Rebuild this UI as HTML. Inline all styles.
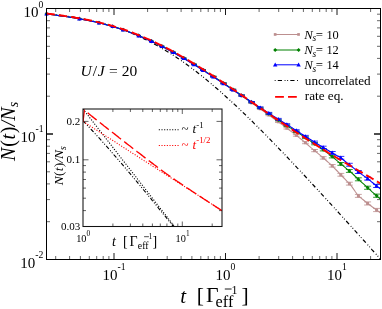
<!DOCTYPE html>
<html><head><meta charset="utf-8"><title>chart</title><style>html,body{margin:0;padding:0;background:#fff}body{width:382px;height:309px;overflow:hidden;font-family:"Liberation Serif",serif}</style></head><body>
<svg width="382" height="309" viewBox="0 0 382 309" style="display:block;will-change:transform;transform:translateZ(0)">
<rect width="382" height="309" fill="#fff"/>
<defs><clipPath id="cm"><rect x="46.5" y="8.5" width="334.0" height="251.0"/></clipPath><clipPath id="ci"><rect x="83.0" y="109.0" width="139.0" height="117.5"/></clipPath></defs>
<path d="M55.7,259.5 v-3.5 M55.7,8.5 v3.5 M69.6,259.5 v-3.5 M69.6,8.5 v3.5 M80.4,259.5 v-3.5 M80.4,8.5 v3.5 M89.3,259.5 v-3.5 M89.3,8.5 v3.5 M96.7,259.5 v-3.5 M96.7,8.5 v3.5 M103.2,259.5 v-3.5 M103.2,8.5 v3.5 M108.9,259.5 v-3.5 M108.9,8.5 v3.5 M147.6,259.5 v-3.5 M147.6,8.5 v3.5 M167.2,259.5 v-3.5 M167.2,8.5 v3.5 M181.1,259.5 v-3.5 M181.1,8.5 v3.5 M191.9,259.5 v-3.5 M191.9,8.5 v3.5 M200.8,259.5 v-3.5 M200.8,8.5 v3.5 M208.2,259.5 v-3.5 M208.2,8.5 v3.5 M214.7,259.5 v-3.5 M214.7,8.5 v3.5 M220.4,259.5 v-3.5 M220.4,8.5 v3.5 M259.1,259.5 v-3.5 M259.1,8.5 v3.5 M278.7,259.5 v-3.5 M278.7,8.5 v3.5 M292.6,259.5 v-3.5 M292.6,8.5 v3.5 M303.4,259.5 v-3.5 M303.4,8.5 v3.5 M312.3,259.5 v-3.5 M312.3,8.5 v3.5 M319.7,259.5 v-3.5 M319.7,8.5 v3.5 M326.2,259.5 v-3.5 M326.2,8.5 v3.5 M331.9,259.5 v-3.5 M331.9,8.5 v3.5 M370.6,259.5 v-3.5 M370.6,8.5 v3.5 M46.5,221.7 h3.5 M380.5,221.7 h-3.5 M46.5,199.6 h3.5 M380.5,199.6 h-3.5 M46.5,183.9 h3.5 M380.5,183.9 h-3.5 M46.5,171.8 h3.5 M380.5,171.8 h-3.5 M46.5,161.8 h3.5 M380.5,161.8 h-3.5 M46.5,153.4 h3.5 M380.5,153.4 h-3.5 M46.5,146.2 h3.5 M380.5,146.2 h-3.5 M46.5,139.7 h3.5 M380.5,139.7 h-3.5 M46.5,96.2 h3.5 M380.5,96.2 h-3.5 M46.5,74.1 h3.5 M380.5,74.1 h-3.5 M46.5,58.4 h3.5 M380.5,58.4 h-3.5 M46.5,46.3 h3.5 M380.5,46.3 h-3.5 M46.5,36.3 h3.5 M380.5,36.3 h-3.5 M46.5,27.9 h3.5 M380.5,27.9 h-3.5 M46.5,20.7 h3.5 M380.5,20.7 h-3.5 M46.5,14.2 h3.5 M380.5,14.2 h-3.5" stroke="#000" stroke-width="0.6" fill="none"/>
<path d="M114.0,259.5 v-6.5 M114.0,8.5 v6.5 M225.5,259.5 v-6.5 M225.5,8.5 v6.5 M337.0,259.5 v-6.5 M337.0,8.5 v6.5 M46.5,134.0 h6.5 M380.5,134.0 h-6.5 M46.5,134.0 h6.5 M380.5,134.0 h-6.5" stroke="#000" stroke-width="0.9" fill="none"/>
<g fill="none">
<path clip-path="url(#cm)" d="M46.5,13.7 L48.6,13.9 L50.7,14.1 L52.8,14.3 L54.9,14.6 L56.9,14.8 L59.0,15.1 L61.1,15.4 L63.2,15.6 L65.3,15.9 L67.4,16.2 L69.5,16.6 L71.5,16.9 L73.6,17.2 L75.7,17.6 L77.8,18.0 L79.9,18.3 L82.0,18.7 L84.1,19.1 L86.2,19.6 L88.2,20.0 L90.3,20.5 L92.4,20.9 L94.5,21.4 L96.6,21.9 L98.7,22.4 L100.8,23.0 L102.9,23.5 L105.0,24.1 L107.0,24.7 L109.1,25.3 L111.2,26.0 L113.3,26.6 L115.4,27.3 L117.5,28.0 L119.6,28.7 L121.7,29.4 L123.7,30.2 L125.8,31.0 L127.9,31.8 L130.0,32.6 L132.1,33.5 L134.2,34.3 L136.3,35.2 L138.3,36.2 L140.4,37.1 L142.5,38.1 L144.6,39.1 L146.7,40.1 L148.8,41.2 L150.9,42.2 L153.0,43.3 L155.1,44.4 L157.1,45.6 L159.2,46.8 L161.3,48.0 L163.4,49.2 L165.5,50.4 L167.6,51.7 L169.7,53.0 L171.8,54.3 L173.8,55.7 L175.9,57.0 L178.0,58.4 L180.1,59.9 L182.2,61.3 L184.3,62.8 L186.4,64.3 L188.4,65.8 L190.5,67.3 L192.6,68.9 L194.7,70.5 L196.8,72.1 L198.9,73.7 L201.0,75.4 L203.1,77.0 L205.2,78.7 L207.2,80.4 L209.3,82.2 L211.4,83.9 L213.5,85.7 L215.6,87.5 L217.7,89.3 L219.8,91.1 L221.8,93.0 L223.9,94.8 L226.0,96.7 L228.1,98.6 L230.2,100.5 L232.3,102.4 L234.4,104.4 L236.5,106.3 L238.6,108.3 L240.6,110.3 L242.7,112.2 L244.8,114.2 L246.9,116.3 L249.0,118.3 L251.1,120.3 L253.2,122.4 L255.2,124.5 L257.3,126.5 L259.4,128.6 L261.5,130.7 L263.6,132.8 L265.7,134.9 L267.8,137.1 L269.9,139.2 L271.9,141.3 L274.0,143.5 L276.1,145.6 L278.2,147.8 L280.3,150.0 L282.4,152.1 L284.5,154.3 L286.6,156.5 L288.6,158.7 L290.7,160.9 L292.8,163.1 L294.9,165.3 L297.0,167.6 L299.1,169.8 L301.2,172.0 L303.3,174.3 L305.4,176.5 L307.4,178.7 L309.5,181.0 L311.6,183.2 L313.7,185.5 L315.8,187.8 L317.9,190.0 L320.0,192.3 L322.1,194.6 L324.1,196.8 L326.2,199.1 L328.3,201.4 L330.4,203.7 L332.5,206.0 L334.6,208.2 L336.7,210.5 L338.8,212.8 L340.8,215.1 L342.9,217.4 L345.0,219.7 L347.1,222.0 L349.2,224.3 L351.3,226.6 L353.4,228.9 L355.4,231.2 L357.5,233.6 L359.6,235.9 L361.7,238.2 L363.8,240.5 L365.9,242.8 L368.0,245.1 L370.1,247.5 L372.1,249.8 L374.2,252.1 L376.3,254.4 L378.4,256.7 L380.5,259.1" stroke="#000" stroke-width="1.2" stroke-dasharray="4.2,2.6,0.9,1.7,0.9,2.2"/>
<path clip-path="url(#cm)" d="M46.5,13.9 L48.6,14.2 L50.7,14.5 L52.8,14.7 L54.9,15.0 L56.9,15.3 L59.0,15.6 L61.1,15.9 L63.2,16.2 L65.3,16.5 L67.4,16.8 L69.5,17.1 L71.5,17.4 L73.6,17.8 L75.7,18.1 L77.8,18.5 L79.9,18.8 L82.0,19.2 L84.1,19.6 L86.2,20.0 L88.2,20.4 L90.3,20.9 L92.4,21.3 L94.5,21.8 L96.6,22.2 L98.7,22.7 L100.8,23.2 L102.9,23.8 L105.0,24.3 L107.0,24.9 L109.1,25.4 L111.2,26.0 L113.3,26.7 L115.4,27.3 L117.5,27.9 L119.6,28.6 L121.7,29.3 L123.7,30.0 L125.8,30.7 L127.9,31.5 L130.0,32.2 L132.1,33.0 L134.2,33.8 L136.3,34.6 L138.3,35.5 L140.4,36.3 L142.5,37.2 L144.6,38.1 L146.7,39.0 L148.8,40.0 L150.9,40.9 L153.0,41.9 L155.1,42.9 L157.1,43.9 L159.2,44.9 L161.3,45.9 L163.4,47.0 L165.5,48.1 L167.6,49.2 L169.7,50.3 L171.8,51.4 L173.8,52.5 L175.9,53.7 L178.0,54.9 L180.1,56.0 L182.2,57.2 L184.3,58.5 L186.4,59.7 L188.4,60.9 L190.5,62.2 L192.6,63.5 L194.7,64.7 L196.8,66.0 L198.9,67.3 L201.0,68.6 L203.1,70.0 L205.2,71.3 L207.2,72.7 L209.3,74.0 L211.4,75.4 L213.5,76.7 L215.6,78.1 L217.7,79.5 L219.8,80.9 L221.8,82.3 L223.9,83.7 L226.0,85.1 L228.1,86.6 L230.2,88.0 L232.3,89.4 L234.4,90.9 L236.5,92.3 L238.6,93.7 L240.6,95.2 L242.7,96.6 L244.8,98.1 L246.9,99.5 L249.0,101.0 L251.1,102.4 L253.2,103.9 L255.2,105.3 L257.3,106.8 L259.4,108.2 L261.5,109.7 L263.6,111.2 L265.7,112.7 L267.8,114.3 L269.9,115.8 L271.9,117.3 L274.0,118.8 L276.1,120.3 L278.2,121.7 L280.3,123.2 L282.4,124.8 L284.5,126.4 L286.6,128.0 L288.6,129.5 L290.7,131.1 L292.8,132.6 L294.9,134.2 L297.0,135.8 L299.1,137.6 L301.2,139.3 L303.3,140.9 L305.4,142.7 L307.4,144.5 L309.5,146.3 L311.6,148.1 L313.7,149.8 L315.8,151.6 L317.9,153.4 L320.0,155.1 L322.1,156.9 L324.1,158.7 L326.2,160.5 L328.3,162.4 L330.4,164.2 L332.5,166.1 L334.6,168.3 L336.7,170.5 L338.8,172.7 L340.8,174.8 L342.9,177.0 L345.0,179.1 L347.1,181.3 L349.2,183.4 L351.3,185.9 L353.4,188.9 L355.4,191.8 L357.5,194.7 L359.6,196.9 L361.7,198.6 L363.8,200.3 L365.9,202.0 L368.0,203.7 L370.1,205.2 L372.1,206.8 L374.2,208.3 L376.3,209.8 L378.4,211.4 L380.5,213.0" stroke="#bc8f8f" stroke-width="1.1"/>
<path d="M46.5,13.9 h0.0 M46.5,13.9 h0.0 M46.5,13.9 V13.9" stroke="#bc8f8f" stroke-width="0.8"/>
<rect x="45.0" y="12.4" width="3" height="3" fill="#bc8f8f"/>
<path d="M78.6,18.7 h1.4 M78.6,18.8 h1.4 M79.3,18.7 V18.8" stroke="#bc8f8f" stroke-width="0.8"/>
<rect x="77.8" y="17.2" width="3" height="3" fill="#bc8f8f"/>
<path d="M97.9,22.7 h2.3 M97.9,22.9 h2.3 M99.0,22.7 V22.9" stroke="#bc8f8f" stroke-width="0.8"/>
<rect x="97.5" y="21.3" width="3" height="3" fill="#bc8f8f"/>
<path d="M111.2,26.3 h2.9 M111.2,26.6 h2.9 M112.6,26.3 V26.6" stroke="#bc8f8f" stroke-width="0.8"/>
<rect x="111.1" y="24.9" width="3" height="3" fill="#bc8f8f"/>
<path d="M121.3,29.6 h3.3 M121.3,29.9 h3.3 M123.0,29.6 V29.9" stroke="#bc8f8f" stroke-width="0.8"/>
<rect x="121.5" y="28.2" width="3" height="3" fill="#bc8f8f"/>
<path d="M136.7,35.4 h4.0 M136.7,35.8 h4.0 M138.7,35.4 V35.8" stroke="#bc8f8f" stroke-width="0.8"/>
<rect x="137.2" y="34.1" width="3" height="3" fill="#bc8f8f"/>
<path d="M149.0,40.9 h4.5 M149.0,41.3 h4.5 M151.3,40.9 V41.3" stroke="#bc8f8f" stroke-width="0.8"/>
<rect x="149.8" y="39.6" width="3" height="3" fill="#bc8f8f"/>
<path d="M159.4,46.0 h4.9 M159.4,46.4 h4.9 M161.8,46.0 V46.4" stroke="#bc8f8f" stroke-width="0.8"/>
<rect x="160.3" y="44.7" width="3" height="3" fill="#bc8f8f"/>
<path d="M170.7,52.0 h5.2 M170.7,52.5 h5.2 M173.3,52.0 V52.5" stroke="#bc8f8f" stroke-width="0.8"/>
<rect x="171.8" y="50.7" width="3" height="3" fill="#bc8f8f"/>
<path d="M180.9,57.9 h5.5 M180.9,58.4 h5.5 M183.7,57.9 V58.4" stroke="#bc8f8f" stroke-width="0.8"/>
<rect x="182.2" y="56.6" width="3" height="3" fill="#bc8f8f"/>
<path d="M191.1,64.0 h5.8 M191.1,64.6 h5.8 M194.0,64.0 V64.6" stroke="#bc8f8f" stroke-width="0.8"/>
<rect x="192.5" y="62.8" width="3" height="3" fill="#bc8f8f"/>
<path d="M200.0,69.6 h6.0 M200.0,70.2 h6.0 M203.0,69.6 V70.2" stroke="#bc8f8f" stroke-width="0.8"/>
<rect x="201.5" y="68.4" width="3" height="3" fill="#bc8f8f"/>
<path d="M210.2,76.2 h6.2 M210.2,77.0 h6.2 M213.3,76.2 V77.0" stroke="#bc8f8f" stroke-width="0.8"/>
<rect x="211.8" y="75.1" width="3" height="3" fill="#bc8f8f"/>
<path d="M220.4,83.0 h6.3 M220.4,83.9 h6.3 M223.5,83.0 V83.9" stroke="#bc8f8f" stroke-width="0.8"/>
<rect x="222.0" y="81.9" width="3" height="3" fill="#bc8f8f"/>
<path d="M229.8,89.4 h6.4 M229.8,90.4 h6.4 M233.0,89.4 V90.4" stroke="#bc8f8f" stroke-width="0.8"/>
<rect x="231.5" y="88.4" width="3" height="3" fill="#bc8f8f"/>
<path d="M238.4,95.3 h6.5 M238.4,96.4 h6.5 M241.6,95.3 V96.4" stroke="#bc8f8f" stroke-width="0.8"/>
<rect x="240.1" y="94.3" width="3" height="3" fill="#bc8f8f"/>
<path d="M248.3,102.2 h6.6 M248.3,103.4 h6.6 M251.6,102.2 V103.4" stroke="#bc8f8f" stroke-width="0.8"/>
<rect x="250.1" y="101.3" width="3" height="3" fill="#bc8f8f"/>
<path d="M256.9,108.1 h6.6 M256.9,109.4 h6.6 M260.2,108.1 V109.4" stroke="#bc8f8f" stroke-width="0.8"/>
<rect x="258.7" y="107.3" width="3" height="3" fill="#bc8f8f"/>
<path d="M265.5,114.3 h6.7 M265.5,115.7 h6.7 M268.8,114.3 V115.7" stroke="#bc8f8f" stroke-width="0.8"/>
<rect x="267.3" y="113.5" width="3" height="3" fill="#bc8f8f"/>
<path d="M275.0,121.1 h6.7 M275.0,122.5 h6.7 M278.3,121.1 V122.5" stroke="#bc8f8f" stroke-width="0.8"/>
<rect x="276.8" y="120.3" width="3" height="3" fill="#bc8f8f"/>
<path d="M283.5,127.4 h6.7 M283.5,129.0 h6.7 M286.9,127.4 V129.0" stroke="#bc8f8f" stroke-width="0.8"/>
<rect x="285.4" y="126.7" width="3" height="3" fill="#bc8f8f"/>
<path d="M292.9,134.4 h6.7 M292.9,136.2 h6.7 M296.3,134.4 V136.2" stroke="#bc8f8f" stroke-width="0.8"/>
<rect x="294.8" y="133.8" width="3" height="3" fill="#bc8f8f"/>
<path d="M302.0,141.7 h6.8 M302.0,143.7 h6.8 M305.4,141.7 V143.7" stroke="#bc8f8f" stroke-width="0.8"/>
<rect x="303.9" y="141.2" width="3" height="3" fill="#bc8f8f"/>
<path d="M311.2,149.5 h6.8 M311.2,151.7 h6.8 M314.6,149.5 V151.7" stroke="#bc8f8f" stroke-width="0.8"/>
<rect x="313.1" y="149.1" width="3" height="3" fill="#bc8f8f"/>
<path d="M319.8,156.7 h6.8 M319.8,159.1 h6.8 M323.2,156.7 V159.1" stroke="#bc8f8f" stroke-width="0.8"/>
<rect x="321.7" y="156.4" width="3" height="3" fill="#bc8f8f"/>
<path d="M328.8,164.5 h6.9 M328.8,167.1 h6.9 M332.2,164.5 V167.1" stroke="#bc8f8f" stroke-width="0.8"/>
<rect x="330.7" y="164.3" width="3" height="3" fill="#bc8f8f"/>
<path d="M337.4,173.4 h6.9 M337.4,176.2 h6.9 M340.8,173.4 V176.2" stroke="#bc8f8f" stroke-width="0.8"/>
<rect x="339.3" y="173.3" width="3" height="3" fill="#bc8f8f"/>
<path d="M345.9,182.2 h6.9 M345.9,185.1 h6.9 M349.4,182.2 V185.1" stroke="#bc8f8f" stroke-width="0.8"/>
<rect x="347.9" y="182.2" width="3" height="3" fill="#bc8f8f"/>
<path d="M354.9,194.4 h6.9 M354.9,197.4 h6.9 M358.4,194.4 V197.4" stroke="#bc8f8f" stroke-width="0.8"/>
<rect x="356.9" y="194.4" width="3" height="3" fill="#bc8f8f"/>
<path d="M364.1,201.9 h7.0 M364.1,205.0 h7.0 M367.6,201.9 V205.0" stroke="#bc8f8f" stroke-width="0.8"/>
<rect x="366.1" y="202.0" width="3" height="3" fill="#bc8f8f"/>
<path d="M373.1,208.4 h7.0 M373.1,211.6 h7.0 M376.6,208.4 V211.6" stroke="#bc8f8f" stroke-width="0.8"/>
<rect x="375.1" y="208.5" width="3" height="3" fill="#bc8f8f"/>
<path clip-path="url(#cm)" d="M46.5,13.9 L48.6,14.2 L50.7,14.5 L52.8,14.7 L54.9,15.0 L56.9,15.3 L59.0,15.6 L61.1,15.9 L63.2,16.2 L65.3,16.5 L67.4,16.8 L69.5,17.1 L71.5,17.4 L73.6,17.8 L75.7,18.1 L77.8,18.5 L79.9,18.8 L82.0,19.2 L84.1,19.6 L86.2,20.0 L88.2,20.4 L90.3,20.9 L92.4,21.3 L94.5,21.8 L96.6,22.2 L98.7,22.7 L100.8,23.2 L102.9,23.8 L105.0,24.3 L107.0,24.9 L109.1,25.4 L111.2,26.0 L113.3,26.7 L115.4,27.3 L117.5,27.9 L119.6,28.6 L121.7,29.3 L123.7,30.0 L125.8,30.7 L127.9,31.5 L130.0,32.2 L132.1,33.0 L134.2,33.8 L136.3,34.6 L138.3,35.5 L140.4,36.3 L142.5,37.2 L144.6,38.1 L146.7,39.0 L148.8,40.0 L150.9,40.9 L153.0,41.9 L155.1,42.9 L157.1,43.9 L159.2,44.9 L161.3,45.9 L163.4,47.0 L165.5,48.1 L167.6,49.2 L169.7,50.3 L171.8,51.4 L173.8,52.5 L175.9,53.7 L178.0,54.9 L180.1,56.0 L182.2,57.2 L184.3,58.5 L186.4,59.7 L188.4,60.9 L190.5,62.2 L192.6,63.5 L194.7,64.7 L196.8,66.0 L198.9,67.3 L201.0,68.6 L203.1,69.9 L205.2,71.2 L207.2,72.6 L209.3,73.9 L211.4,75.2 L213.5,76.6 L215.6,78.0 L217.7,79.3 L219.8,80.7 L221.8,82.1 L223.9,83.5 L226.0,84.8 L228.1,86.2 L230.2,87.6 L232.3,89.1 L234.4,90.5 L236.5,91.9 L238.6,93.3 L240.6,94.7 L242.7,96.1 L244.8,97.6 L246.9,99.0 L249.0,100.4 L251.1,101.8 L253.2,103.2 L255.2,104.6 L257.3,106.0 L259.4,107.4 L261.5,108.8 L263.6,110.2 L265.7,111.6 L267.8,113.0 L269.9,114.4 L271.9,115.8 L274.0,117.2 L276.1,118.6 L278.2,119.9 L280.3,121.3 L282.4,122.7 L284.5,124.0 L286.6,125.4 L288.6,126.8 L290.7,128.1 L292.8,129.4 L294.9,130.8 L297.0,132.1 L299.1,133.4 L301.2,134.8 L303.3,136.2 L305.4,137.6 L307.4,139.0 L309.5,140.4 L311.6,141.8 L313.7,143.1 L315.8,144.5 L317.9,145.9 L320.0,147.2 L322.1,148.8 L324.1,150.4 L326.2,152.0 L328.3,153.6 L330.4,155.2 L332.5,156.8 L334.6,158.6 L336.7,160.4 L338.8,162.1 L340.8,163.9 L342.9,165.6 L345.0,167.3 L347.1,169.1 L349.2,170.8 L351.3,172.6 L353.4,174.5 L355.4,176.5 L357.5,178.5 L359.6,180.4 L361.7,182.3 L363.8,184.2 L365.9,186.2 L368.0,188.1 L370.1,189.9 L372.1,191.8 L374.2,193.6 L376.3,195.5 L378.4,197.4 L380.5,199.3" stroke="#008000" stroke-width="1.1"/>
<path d="M46.5,13.9 h0.0 M46.5,13.9 h0.0 M46.5,13.9 V13.9" stroke="#008000" stroke-width="0.8"/>
<path d="M46.5,11.9 l2,2 l-2,2 l-2,-2z" fill="#008000"/>
<path d="M78.6,18.7 h1.4 M78.6,18.8 h1.4 M79.3,18.7 V18.8" stroke="#008000" stroke-width="0.8"/>
<path d="M79.3,16.7 l2,2 l-2,2 l-2,-2z" fill="#008000"/>
<path d="M97.9,22.7 h2.3 M97.9,22.9 h2.3 M99.0,22.7 V22.9" stroke="#008000" stroke-width="0.8"/>
<path d="M99.0,20.8 l2,2 l-2,2 l-2,-2z" fill="#008000"/>
<path d="M111.2,26.3 h2.9 M111.2,26.6 h2.9 M112.6,26.3 V26.6" stroke="#008000" stroke-width="0.8"/>
<path d="M112.6,24.4 l2,2 l-2,2 l-2,-2z" fill="#008000"/>
<path d="M121.3,29.6 h3.3 M121.3,29.9 h3.3 M123.0,29.6 V29.9" stroke="#008000" stroke-width="0.8"/>
<path d="M123.0,27.7 l2,2 l-2,2 l-2,-2z" fill="#008000"/>
<path d="M136.7,35.4 h4.0 M136.7,35.8 h4.0 M138.7,35.4 V35.8" stroke="#008000" stroke-width="0.8"/>
<path d="M138.7,33.6 l2,2 l-2,2 l-2,-2z" fill="#008000"/>
<path d="M149.0,40.9 h4.5 M149.0,41.3 h4.5 M151.3,40.9 V41.3" stroke="#008000" stroke-width="0.8"/>
<path d="M151.3,39.1 l2,2 l-2,2 l-2,-2z" fill="#008000"/>
<path d="M159.4,46.0 h4.9 M159.4,46.4 h4.9 M161.8,46.0 V46.4" stroke="#008000" stroke-width="0.8"/>
<path d="M161.8,44.2 l2,2 l-2,2 l-2,-2z" fill="#008000"/>
<path d="M170.7,52.0 h5.2 M170.7,52.5 h5.2 M173.3,52.0 V52.5" stroke="#008000" stroke-width="0.8"/>
<path d="M173.3,50.2 l2,2 l-2,2 l-2,-2z" fill="#008000"/>
<path d="M180.9,57.9 h5.5 M180.9,58.4 h5.5 M183.7,57.9 V58.4" stroke="#008000" stroke-width="0.8"/>
<path d="M183.7,56.1 l2,2 l-2,2 l-2,-2z" fill="#008000"/>
<path d="M191.1,64.0 h5.8 M191.1,64.6 h5.8 M194.0,64.0 V64.6" stroke="#008000" stroke-width="0.8"/>
<path d="M194.0,62.3 l2,2 l-2,2 l-2,-2z" fill="#008000"/>
<path d="M200.0,69.6 h6.0 M200.0,70.2 h6.0 M203.0,69.6 V70.2" stroke="#008000" stroke-width="0.8"/>
<path d="M203.0,67.9 l2,2 l-2,2 l-2,-2z" fill="#008000"/>
<path d="M210.2,76.1 h6.2 M210.2,76.8 h6.2 M213.3,76.1 V76.8" stroke="#008000" stroke-width="0.8"/>
<path d="M213.3,74.5 l2,2 l-2,2 l-2,-2z" fill="#008000"/>
<path d="M220.4,82.7 h6.3 M220.4,83.6 h6.3 M223.5,82.7 V83.6" stroke="#008000" stroke-width="0.8"/>
<path d="M223.5,81.2 l2,2 l-2,2 l-2,-2z" fill="#008000"/>
<path d="M229.8,89.1 h6.4 M229.8,90.0 h6.4 M233.0,89.1 V90.0" stroke="#008000" stroke-width="0.8"/>
<path d="M233.0,87.5 l2,2 l-2,2 l-2,-2z" fill="#008000"/>
<path d="M238.4,94.8 h6.5 M238.4,95.9 h6.5 M241.6,94.8 V95.9" stroke="#008000" stroke-width="0.8"/>
<path d="M241.6,93.4 l2,2 l-2,2 l-2,-2z" fill="#008000"/>
<path d="M248.3,101.6 h6.6 M248.3,102.8 h6.6 M251.6,101.6 V102.8" stroke="#008000" stroke-width="0.8"/>
<path d="M251.6,100.2 l2,2 l-2,2 l-2,-2z" fill="#008000"/>
<path d="M256.9,107.3 h6.6 M256.9,108.6 h6.6 M260.2,107.3 V108.6" stroke="#008000" stroke-width="0.8"/>
<path d="M260.2,106.0 l2,2 l-2,2 l-2,-2z" fill="#008000"/>
<path d="M265.5,113.0 h6.7 M265.5,114.4 h6.7 M268.8,113.0 V114.4" stroke="#008000" stroke-width="0.8"/>
<path d="M268.8,111.7 l2,2 l-2,2 l-2,-2z" fill="#008000"/>
<path d="M275.0,119.3 h6.7 M275.0,120.7 h6.7 M278.3,119.3 V120.7" stroke="#008000" stroke-width="0.8"/>
<path d="M278.3,118.0 l2,2 l-2,2 l-2,-2z" fill="#008000"/>
<path d="M283.5,124.8 h6.7 M283.5,126.4 h6.7 M286.9,124.8 V126.4" stroke="#008000" stroke-width="0.8"/>
<path d="M286.9,123.6 l2,2 l-2,2 l-2,-2z" fill="#008000"/>
<path d="M292.9,130.8 h6.7 M292.9,132.5 h6.7 M296.3,130.8 V132.5" stroke="#008000" stroke-width="0.8"/>
<path d="M296.3,129.7 l2,2 l-2,2 l-2,-2z" fill="#008000"/>
<path d="M302.0,136.7 h6.8 M302.0,138.6 h6.8 M305.4,136.7 V138.6" stroke="#008000" stroke-width="0.8"/>
<path d="M305.4,135.6 l2,2 l-2,2 l-2,-2z" fill="#008000"/>
<path d="M311.2,142.6 h6.8 M311.2,144.8 h6.8 M314.6,142.6 V144.8" stroke="#008000" stroke-width="0.8"/>
<path d="M314.6,141.7 l2,2 l-2,2 l-2,-2z" fill="#008000"/>
<path d="M319.8,148.5 h6.8 M319.8,150.9 h6.8 M323.2,148.5 V150.9" stroke="#008000" stroke-width="0.8"/>
<path d="M323.2,147.7 l2,2 l-2,2 l-2,-2z" fill="#008000"/>
<path d="M328.8,155.3 h6.9 M328.8,157.9 h6.9 M332.2,155.3 V157.9" stroke="#008000" stroke-width="0.8"/>
<path d="M332.2,154.6 l2,2 l-2,2 l-2,-2z" fill="#008000"/>
<path d="M337.4,162.5 h6.9 M337.4,165.3 h6.9 M340.8,162.5 V165.3" stroke="#008000" stroke-width="0.8"/>
<path d="M340.8,161.9 l2,2 l-2,2 l-2,-2z" fill="#008000"/>
<path d="M345.9,169.5 h6.9 M345.9,172.4 h6.9 M349.4,169.5 V172.4" stroke="#008000" stroke-width="0.8"/>
<path d="M349.4,168.9 l2,2 l-2,2 l-2,-2z" fill="#008000"/>
<path d="M354.9,177.8 h6.9 M354.9,180.8 h6.9 M358.4,177.8 V180.8" stroke="#008000" stroke-width="0.8"/>
<path d="M358.4,177.3 l2,2 l-2,2 l-2,-2z" fill="#008000"/>
<path d="M364.1,186.2 h7.0 M364.1,189.3 h7.0 M367.6,186.2 V189.3" stroke="#008000" stroke-width="0.8"/>
<path d="M367.6,185.8 l2,2 l-2,2 l-2,-2z" fill="#008000"/>
<path d="M373.1,194.1 h7.0 M373.1,197.3 h7.0 M376.6,194.1 V197.3" stroke="#008000" stroke-width="0.8"/>
<path d="M376.6,193.7 l2,2 l-2,2 l-2,-2z" fill="#008000"/>
<path clip-path="url(#cm)" d="M46.5,13.9 L48.6,14.2 L50.7,14.5 L52.8,14.7 L54.9,15.0 L56.9,15.3 L59.0,15.6 L61.1,15.9 L63.2,16.2 L65.3,16.5 L67.4,16.8 L69.5,17.1 L71.5,17.5 L73.6,17.8 L75.7,18.2 L77.8,18.5 L79.9,18.9 L82.0,19.3 L84.1,19.7 L86.2,20.1 L88.2,20.5 L90.3,20.9 L92.4,21.4 L94.5,21.8 L96.6,22.3 L98.7,22.8 L100.8,23.3 L102.9,23.8 L105.0,24.4 L107.0,25.0 L109.1,25.5 L111.2,26.1 L113.3,26.7 L115.4,27.4 L117.5,28.0 L119.6,28.7 L121.7,29.4 L123.7,30.1 L125.8,30.8 L127.9,31.6 L130.0,32.4 L132.1,33.2 L134.2,34.0 L136.3,34.8 L138.3,35.6 L140.4,36.5 L142.5,37.4 L144.6,38.3 L146.7,39.2 L148.8,40.2 L150.9,41.1 L153.0,42.1 L155.1,43.1 L157.1,44.1 L159.2,45.1 L161.3,46.2 L163.4,47.3 L165.5,48.3 L167.6,49.4 L169.7,50.6 L171.8,51.7 L173.8,52.8 L175.9,54.0 L178.0,55.2 L180.1,56.4 L182.2,57.6 L184.3,58.8 L186.4,60.0 L188.4,61.3 L190.5,62.5 L192.6,63.8 L194.7,65.1 L196.8,66.4 L198.9,67.7 L201.0,69.0 L203.1,70.3 L205.2,71.6 L207.2,73.0 L209.3,74.3 L211.4,75.6 L213.5,77.0 L215.6,78.3 L217.7,79.7 L219.8,81.1 L221.8,82.5 L223.9,83.8 L226.0,85.2 L228.1,86.6 L230.2,88.0 L232.3,89.4 L234.4,90.8 L236.5,92.2 L238.6,93.6 L240.6,94.9 L242.7,96.3 L244.8,97.6 L246.9,99.0 L249.0,100.3 L251.1,101.7 L253.2,103.0 L255.2,104.4 L257.3,105.7 L259.4,107.1 L261.5,108.4 L263.6,109.8 L265.7,111.1 L267.8,112.4 L269.9,113.8 L271.9,115.1 L274.0,116.4 L276.1,117.7 L278.2,119.1 L280.3,120.4 L282.4,121.7 L284.5,123.0 L286.6,124.3 L288.6,125.6 L290.7,126.9 L292.8,128.3 L294.9,129.6 L297.0,131.0 L299.1,132.3 L301.2,133.7 L303.3,135.0 L305.4,136.3 L307.4,137.7 L309.5,139.0 L311.6,140.3 L313.7,141.6 L315.8,142.9 L317.9,144.2 L320.0,145.5 L322.1,146.7 L324.1,148.0 L326.2,149.3 L328.3,150.5 L330.4,151.8 L332.5,153.0 L334.6,154.3 L336.7,155.5 L338.8,156.6 L340.8,157.8 L342.9,159.5 L345.0,161.2 L347.1,162.9 L349.2,164.5 L351.3,166.2 L353.4,167.9 L355.4,169.6 L357.5,171.3 L359.6,172.9 L361.7,174.4 L363.8,175.9 L365.9,177.4 L368.0,178.9 L370.1,180.6 L372.1,182.3 L374.2,184.0 L376.3,185.7 L378.4,187.4 L380.5,189.1" stroke="#0000ff" stroke-width="1.1"/>
<path d="M46.5,13.9 h0.0 M46.5,13.9 h0.0 M46.5,13.9 V13.9" stroke="#0000ff" stroke-width="0.8"/>
<path d="M46.5,11.7 l2.2,3.8 h-4.4z" fill="#0000ff"/>
<path d="M78.6,18.7 h1.4 M78.6,18.8 h1.4 M79.3,18.7 V18.8" stroke="#0000ff" stroke-width="0.8"/>
<path d="M79.3,16.6 l2.2,3.8 h-4.4z" fill="#0000ff"/>
<path d="M97.9,22.8 h2.3 M97.9,23.0 h2.3 M99.0,22.8 V23.0" stroke="#0000ff" stroke-width="0.8"/>
<path d="M99.0,20.7 l2.2,3.8 h-4.4z" fill="#0000ff"/>
<path d="M111.2,26.4 h2.9 M111.2,26.7 h2.9 M112.6,26.4 V26.7" stroke="#0000ff" stroke-width="0.8"/>
<path d="M112.6,24.3 l2.2,3.8 h-4.4z" fill="#0000ff"/>
<path d="M121.3,29.7 h3.3 M121.3,30.0 h3.3 M123.0,29.7 V30.0" stroke="#0000ff" stroke-width="0.8"/>
<path d="M123.0,27.7 l2.2,3.8 h-4.4z" fill="#0000ff"/>
<path d="M136.7,35.6 h4.0 M136.7,36.0 h4.0 M138.7,35.6 V36.0" stroke="#0000ff" stroke-width="0.8"/>
<path d="M138.7,33.6 l2.2,3.8 h-4.4z" fill="#0000ff"/>
<path d="M149.0,41.1 h4.5 M149.0,41.5 h4.5 M151.3,41.1 V41.5" stroke="#0000ff" stroke-width="0.8"/>
<path d="M151.3,39.1 l2.2,3.8 h-4.4z" fill="#0000ff"/>
<path d="M159.4,46.2 h4.9 M159.4,46.7 h4.9 M161.8,46.2 V46.7" stroke="#0000ff" stroke-width="0.8"/>
<path d="M161.8,44.2 l2.2,3.8 h-4.4z" fill="#0000ff"/>
<path d="M170.7,52.3 h5.2 M170.7,52.8 h5.2 M173.3,52.3 V52.8" stroke="#0000ff" stroke-width="0.8"/>
<path d="M173.3,50.3 l2.2,3.8 h-4.4z" fill="#0000ff"/>
<path d="M180.9,58.2 h5.5 M180.9,58.7 h5.5 M183.7,58.2 V58.7" stroke="#0000ff" stroke-width="0.8"/>
<path d="M183.7,56.3 l2.2,3.8 h-4.4z" fill="#0000ff"/>
<path d="M191.1,64.4 h5.8 M191.1,65.0 h5.8 M194.0,64.4 V65.0" stroke="#0000ff" stroke-width="0.8"/>
<path d="M194.0,62.5 l2.2,3.8 h-4.4z" fill="#0000ff"/>
<path d="M200.0,70.0 h6.0 M200.0,70.6 h6.0 M203.0,70.0 V70.6" stroke="#0000ff" stroke-width="0.8"/>
<path d="M203.0,68.1 l2.2,3.8 h-4.4z" fill="#0000ff"/>
<path d="M210.2,76.5 h6.2 M210.2,77.2 h6.2 M213.3,76.5 V77.2" stroke="#0000ff" stroke-width="0.8"/>
<path d="M213.3,74.7 l2.2,3.8 h-4.4z" fill="#0000ff"/>
<path d="M220.4,83.1 h6.3 M220.4,84.0 h6.3 M223.5,83.1 V84.0" stroke="#0000ff" stroke-width="0.8"/>
<path d="M223.5,81.4 l2.2,3.8 h-4.4z" fill="#0000ff"/>
<path d="M229.8,89.4 h6.4 M229.8,90.4 h6.4 M233.0,89.4 V90.4" stroke="#0000ff" stroke-width="0.8"/>
<path d="M233.0,87.7 l2.2,3.8 h-4.4z" fill="#0000ff"/>
<path d="M238.4,95.0 h6.5 M238.4,96.1 h6.5 M241.6,95.0 V96.1" stroke="#0000ff" stroke-width="0.8"/>
<path d="M241.6,93.3 l2.2,3.8 h-4.4z" fill="#0000ff"/>
<path d="M248.3,101.5 h6.6 M248.3,102.6 h6.6 M251.6,101.5 V102.6" stroke="#0000ff" stroke-width="0.8"/>
<path d="M251.6,99.8 l2.2,3.8 h-4.4z" fill="#0000ff"/>
<path d="M256.9,106.9 h6.6 M256.9,108.2 h6.6 M260.2,106.9 V108.2" stroke="#0000ff" stroke-width="0.8"/>
<path d="M260.2,105.4 l2.2,3.8 h-4.4z" fill="#0000ff"/>
<path d="M265.5,112.4 h6.7 M265.5,113.8 h6.7 M268.8,112.4 V113.8" stroke="#0000ff" stroke-width="0.8"/>
<path d="M268.8,110.9 l2.2,3.8 h-4.4z" fill="#0000ff"/>
<path d="M275.0,118.4 h6.7 M275.0,119.9 h6.7 M278.3,118.4 V119.9" stroke="#0000ff" stroke-width="0.8"/>
<path d="M278.3,116.9 l2.2,3.8 h-4.4z" fill="#0000ff"/>
<path d="M283.5,123.7 h6.7 M283.5,125.3 h6.7 M286.9,123.7 V125.3" stroke="#0000ff" stroke-width="0.8"/>
<path d="M286.9,122.3 l2.2,3.8 h-4.4z" fill="#0000ff"/>
<path d="M292.9,129.7 h6.7 M292.9,131.4 h6.7 M296.3,129.7 V131.4" stroke="#0000ff" stroke-width="0.8"/>
<path d="M296.3,128.3 l2.2,3.8 h-4.4z" fill="#0000ff"/>
<path d="M302.0,135.4 h6.8 M302.0,137.4 h6.8 M305.4,135.4 V137.4" stroke="#0000ff" stroke-width="0.8"/>
<path d="M305.4,134.2 l2.2,3.8 h-4.4z" fill="#0000ff"/>
<path d="M311.2,141.1 h6.8 M311.2,143.2 h6.8 M314.6,141.1 V143.2" stroke="#0000ff" stroke-width="0.8"/>
<path d="M314.6,140.0 l2.2,3.8 h-4.4z" fill="#0000ff"/>
<path d="M319.8,146.2 h6.8 M319.8,148.6 h6.8 M323.2,146.2 V148.6" stroke="#0000ff" stroke-width="0.8"/>
<path d="M323.2,145.2 l2.2,3.8 h-4.4z" fill="#0000ff"/>
<path d="M328.8,151.5 h6.9 M328.8,154.2 h6.9 M332.2,151.5 V154.2" stroke="#0000ff" stroke-width="0.8"/>
<path d="M332.2,150.6 l2.2,3.8 h-4.4z" fill="#0000ff"/>
<path d="M337.4,156.4 h6.9 M337.4,159.2 h6.9 M340.8,156.4 V159.2" stroke="#0000ff" stroke-width="0.8"/>
<path d="M340.8,155.6 l2.2,3.8 h-4.4z" fill="#0000ff"/>
<path d="M345.9,163.3 h6.9 M345.9,166.2 h6.9 M349.4,163.3 V166.2" stroke="#0000ff" stroke-width="0.8"/>
<path d="M349.4,162.5 l2.2,3.8 h-4.4z" fill="#0000ff"/>
<path d="M354.9,170.5 h6.9 M354.9,173.5 h6.9 M358.4,170.5 V173.5" stroke="#0000ff" stroke-width="0.8"/>
<path d="M358.4,169.8 l2.2,3.8 h-4.4z" fill="#0000ff"/>
<path d="M364.1,177.1 h7.0 M364.1,180.1 h7.0 M367.6,177.1 V180.1" stroke="#0000ff" stroke-width="0.8"/>
<path d="M367.6,176.4 l2.2,3.8 h-4.4z" fill="#0000ff"/>
<path d="M373.1,184.4 h7.0 M373.1,187.5 h7.0 M376.6,184.4 V187.5" stroke="#0000ff" stroke-width="0.8"/>
<path d="M376.6,183.8 l2.2,3.8 h-4.4z" fill="#0000ff"/>
<path clip-path="url(#cm)" d="M46.5,13.5 L48.6,13.8 L50.7,14.0 L52.8,14.3 L54.9,14.6 L56.9,14.9 L59.0,15.2 L61.1,15.5 L63.2,15.8 L65.3,16.1 L67.4,16.4 L69.5,16.7 L71.5,17.0 L73.6,17.3 L75.7,17.7 L77.8,18.0 L79.9,18.4 L82.0,18.8 L84.1,19.2 L86.2,19.6 L88.2,20.0 L90.3,20.4 L92.4,20.8 L94.5,21.3 L96.6,21.8 L98.7,22.3 L100.8,22.8 L102.9,23.3 L105.0,23.8 L107.0,24.4 L109.1,25.0 L111.2,25.6 L113.3,26.2 L115.4,26.8 L117.5,27.4 L119.6,28.1 L121.7,28.8 L123.7,29.5 L125.8,30.2 L127.9,31.0 L130.0,31.7 L132.1,32.5 L134.2,33.3 L136.3,34.1 L138.3,35.0 L140.4,35.8 L142.5,36.7 L144.6,37.6 L146.7,38.5 L148.8,39.4 L150.9,40.4 L153.0,41.3 L155.1,42.3 L157.1,43.3 L159.2,44.4 L161.3,45.4 L163.4,46.4 L165.5,47.5 L167.6,48.6 L169.7,49.7 L171.8,50.8 L173.8,52.0 L175.9,53.1 L178.0,54.3 L180.1,55.5 L182.2,56.7 L184.3,57.9 L186.4,59.1 L188.4,60.3 L190.5,61.6 L192.6,62.9 L194.7,64.1 L196.8,65.4 L198.9,66.7 L201.0,68.0 L203.1,69.4 L205.2,70.7 L207.2,72.0 L209.3,73.4 L211.4,74.7 L213.5,76.1 L215.6,77.5 L217.7,78.9 L219.8,80.3 L221.8,81.6 L223.9,83.0 L226.0,84.5 L228.1,85.9 L230.2,87.3 L232.3,88.7 L234.4,90.1 L236.5,91.6 L238.6,93.0 L240.6,94.4 L242.7,95.9 L244.8,97.3 L246.9,98.8 L249.0,100.2 L251.1,101.7 L253.2,103.1 L255.2,104.5 L257.3,106.0 L259.4,107.4 L261.5,108.9 L263.6,110.3 L265.7,111.7 L267.8,113.2 L269.9,114.6 L271.9,116.0 L274.0,117.5 L276.1,118.9 L278.2,120.3 L280.3,121.7 L282.4,123.1 L284.5,124.5 L286.6,125.9 L288.6,127.3 L290.7,128.7 L292.8,130.1 L294.9,131.5 L297.0,132.9 L299.1,134.2 L301.2,135.6 L303.3,136.9 L305.4,138.3 L307.4,139.6 L309.5,141.0 L311.6,142.3 L313.7,143.6 L315.8,144.9 L317.9,146.2 L320.0,147.5 L322.1,148.8 L324.1,150.1 L326.2,151.4 L328.3,152.7 L330.4,153.9 L332.5,155.2 L334.6,156.5 L336.7,157.7 L338.8,159.0 L340.8,160.2 L342.9,161.4 L345.0,162.7 L347.1,163.9 L349.2,165.1 L351.3,166.3 L353.4,167.6 L355.4,168.8 L357.5,170.0 L359.6,171.2 L361.7,172.4 L363.8,173.6 L365.9,174.9 L368.0,176.1 L370.1,177.3 L372.1,178.5 L374.2,179.7 L376.3,181.0 L378.4,182.2 L380.5,183.4" stroke="#ff0000" stroke-width="1.9" stroke-dasharray="8.5,4"/>
</g>
<rect x="46.5" y="8.5" width="334.0" height="251.0" fill="none" stroke="#000" stroke-width="1"/>
<path d="M112.9,226.5 v-3.0 M112.9,109.0 v3.0 M130.4,226.5 v-3.0 M130.4,109.0 v3.0 M142.8,226.5 v-3.0 M142.8,109.0 v3.0 M152.4,226.5 v-3.0 M152.4,109.0 v3.0 M160.3,226.5 v-3.0 M160.3,109.0 v3.0 M166.9,226.5 v-3.0 M166.9,109.0 v3.0 M172.7,226.5 v-3.0 M172.7,109.0 v3.0 M177.8,226.5 v-3.0 M177.8,109.0 v3.0 M182.3,226.5 v-5.0 M182.3,109.0 v5.0 M212.2,226.5 v-3.0 M212.2,109.0 v3.0 M83.0,210.6 h3.0 M222.0,210.6 h-3.0 M83.0,198.2 h3.0 M222.0,198.2 h-3.0 M83.0,188.1 h3.0 M222.0,188.1 h-3.0 M83.0,179.5 h3.0 M222.0,179.5 h-3.0 M83.0,172.1 h3.0 M222.0,172.1 h-3.0 M83.0,165.6 h3.0 M222.0,165.6 h-3.0 M83.0,159.8 h5.5 M222.0,159.8 h-5.5 M83.0,121.4 h5.5 M222.0,121.4 h-5.5" stroke="#222" stroke-width="0.7" fill="none"/>
<g clip-path="url(#ci)" fill="none">
<path d="M83.0,109.0 L84.7,111.2 L86.5,113.5 L88.2,115.7 L89.9,117.9 L91.7,120.1 L93.4,122.4 L95.1,124.6 L96.9,126.8 L98.6,129.1 L100.4,131.3 L102.1,133.5 L103.8,135.8 L105.6,138.0 L107.3,140.2 L109.0,142.4 L110.8,144.7 L112.5,146.9 L114.2,149.1 L116.0,151.4 L117.7,153.6 L119.4,155.8 L121.2,158.1 L122.9,160.3 L124.6,162.5 L126.4,164.7 L128.1,167.0 L129.9,169.2 L131.6,171.4 L133.3,173.7 L135.1,175.9 L136.8,178.1 L138.5,180.4 L140.3,182.6 L142.0,184.8 L143.7,187.0 L145.5,189.3 L147.2,191.5 L148.9,193.7 L150.7,196.0 L152.4,198.2 L154.1,200.4 L155.9,202.7 L157.6,204.9 L159.3,207.1 L161.1,209.3 L162.8,211.6 L164.6,213.8 L166.3,216.0 L168.0,218.3 L169.8,220.5 L171.5,222.7 L173.2,224.9 L175.0,227.2 L176.7,229.4 L178.4,231.6 L180.2,233.9 L181.9,236.1 L183.6,238.3 L185.4,240.6 L187.1,242.8 L188.8,245.0 L190.6,247.2 L192.3,249.5 L194.1,251.7 L195.8,253.9 L197.5,256.2 L199.3,258.4 L201.0,260.6 L202.7,262.9 L204.5,265.1 L206.2,267.3 L207.9,269.5 L209.7,271.8 L211.4,274.0 L213.1,276.2 L214.9,278.5 L216.6,280.7 L218.3,282.9 L220.1,285.2 L221.8,287.4" stroke="#000" stroke-width="1.1" stroke-dasharray="1.1,1.57"/>
<path d="M83.0,120.8 L84.7,122.6 L86.5,124.4 L88.2,126.3 L89.9,128.1 L91.7,130.0 L93.4,131.8 L95.1,133.7 L96.9,135.6 L98.6,137.5 L100.4,139.4 L102.1,141.3 L103.8,143.3 L105.6,145.2 L107.3,147.2 L109.0,149.1 L110.8,151.1 L112.5,153.1 L114.2,155.1 L116.0,157.1 L117.7,159.1 L119.4,161.1 L121.2,163.1 L122.9,165.1 L124.6,167.2 L126.4,169.2 L128.1,171.3 L129.9,173.3 L131.6,175.4 L133.3,177.5 L135.1,179.5 L136.8,181.6 L138.5,183.7 L140.3,185.8 L142.0,187.9 L143.7,190.0 L145.5,192.1 L147.2,194.2 L148.9,196.3 L150.7,198.4 L152.4,200.6 L154.1,202.7 L155.9,204.8 L157.6,207.0 L159.3,209.1 L161.1,211.2 L162.8,213.4 L164.6,215.5 L166.3,217.7 L168.0,219.8 L169.8,222.0 L171.5,224.2 L173.2,226.3 L175.0,228.5 L176.7,230.7 L178.4,232.8 L180.2,235.0 L181.9,237.2 L183.6,239.4 L185.4,241.5 L187.1,243.7 L188.8,245.9 L190.6,248.1 L192.3,250.3 L194.1,252.5 L195.8,254.6 L197.5,256.8 L199.3,259.0 L201.0,261.2 L202.7,263.4 L204.5,265.6 L206.2,267.8 L207.9,270.0 L209.7,272.2 L211.4,274.4 L213.1,276.6 L214.9,278.8 L216.6,281.0 L218.3,283.2 L220.1,285.4 L221.8,287.7" stroke="#000" stroke-width="1.1" stroke-dasharray="4,1.9,1,1.6,1,1.9"/>
<path d="M83.0,121.4 L84.7,122.5 L86.5,123.6 L88.2,124.7 L89.9,125.8 L91.7,126.9 L93.4,128.1 L95.1,129.2 L96.9,130.3 L98.6,131.4 L100.4,132.5 L102.1,133.6 L103.8,134.7 L105.6,135.9 L107.3,137.0 L109.0,138.1 L110.8,139.2 L112.5,140.3 L114.2,141.4 L116.0,142.5 L117.7,143.7 L119.4,144.8 L121.2,145.9 L122.9,147.0 L124.6,148.1 L126.4,149.2 L128.1,150.4 L129.9,151.5 L131.6,152.6 L133.3,153.7 L135.1,154.8 L136.8,155.9 L138.5,157.0 L140.3,158.2 L142.0,159.3 L143.7,160.4 L145.5,161.5 L147.2,162.6 L148.9,163.7 L150.7,164.8 L152.4,166.0 L154.1,167.1 L155.9,168.2 L157.6,169.3 L159.3,170.4 L161.1,171.5 L162.8,172.7 L164.6,173.8 L166.3,174.9 L168.0,176.0 L169.8,177.1 L171.5,178.2 L173.2,179.3 L175.0,180.5 L176.7,181.6 L178.4,182.7 L180.2,183.8 L181.9,184.9 L183.6,186.0 L185.4,187.1 L187.1,188.3 L188.8,189.4 L190.6,190.5 L192.3,191.6 L194.1,192.7 L195.8,193.8 L197.5,194.9 L199.3,196.1 L201.0,197.2 L202.7,198.3 L204.5,199.4 L206.2,200.5 L207.9,201.6 L209.7,202.8 L211.4,203.9 L213.1,205.0 L214.9,206.1 L216.6,207.2 L218.3,208.3 L220.1,209.4 L221.8,210.6" stroke="#ff0000" stroke-width="1.1" stroke-dasharray="1.1,1.57"/>
<path d="M83.0,121.4 L84.4,110.2 L85.8,111.3 L87.2,112.4 L88.6,113.6 L90.0,114.7 L91.3,115.8 L92.7,116.9 L94.1,118.0 L95.5,119.1 L96.9,120.2 L98.3,121.3 L99.7,122.4 L101.1,123.5 L102.5,124.6 L103.8,125.7 L105.2,126.8 L106.6,127.9 L108.0,129.0 L109.4,130.1 L110.8,131.1 L112.2,132.2 L113.6,133.3 L115.0,134.4 L116.4,135.5 L117.8,136.6 L119.1,137.7 L120.5,138.8 L121.9,139.9 L123.3,141.0 L124.7,142.0 L126.1,143.1 L127.5,144.2 L128.9,145.3 L130.3,146.3 L131.7,147.4 L133.0,148.5 L134.4,149.5 L135.8,150.6 L137.2,151.7 L138.6,152.7 L140.0,153.8 L141.4,154.9 L142.8,156.0 L144.2,157.1 L145.6,158.2 L146.9,159.2 L148.3,160.3 L149.7,161.3 L151.1,162.4 L152.5,163.4 L153.9,164.5 L155.3,165.5 L156.7,166.6 L158.1,167.6 L159.4,168.7 L160.8,169.7 L162.2,170.7 L163.6,171.8 L165.0,172.8 L166.4,173.8 L167.8,174.7 L169.2,175.7 L170.6,176.7 L172.0,177.7 L173.3,178.6 L174.7,179.6 L176.1,180.5 L177.5,181.5 L178.9,182.4 L180.3,183.4 L181.7,184.3 L183.1,185.2 L184.5,186.2 L185.9,187.1 L187.2,188.0 L188.6,188.9 L190.0,189.8 L191.4,190.7 L192.8,191.7 L194.2,192.6 L195.6,193.5 L197.0,194.4 L198.4,195.3 L199.8,196.2 L201.2,197.1 L202.5,198.0 L203.9,199.0 L205.3,199.9 L206.7,200.8 L208.1,201.7 L209.5,202.6 L210.9,203.5 L212.3,204.4 L213.7,205.3 L215.1,206.2 L216.4,207.1 L217.8,208.0 L219.2,208.9 L220.6,209.8 L222.0,210.7" stroke="#ff0000" stroke-width="1.35" stroke-dasharray="11.5,4"/>
</g>
<rect x="83.0" y="109.0" width="139.0" height="117.5" fill="none" stroke="#111" stroke-width="1.05"/>
<g font-family="'Liberation Serif', serif" fill="#000">
<text x="43.3" y="17.2" font-size="15.0" text-anchor="end">10<tspan font-size="9.7" dy="-9.7">0</tspan></text>
<text x="43.6" y="142.0" font-size="15.0" text-anchor="end">10<tspan font-size="9.7" dy="-9.7">-1</tspan></text>
<text x="43.3" y="268.0" font-size="15.0" text-anchor="end">10<tspan font-size="9.7" dy="-9.7">-2</tspan></text>
<text x="114.0" y="279.6" font-size="15.0" text-anchor="middle">10<tspan font-size="9.7" dy="-9.7">-1</tspan></text>
<text x="225.5" y="279.6" font-size="15.0" text-anchor="middle">10<tspan font-size="9.7" dy="-9.7">0</tspan></text>
<text x="337.0" y="279.6" font-size="15.0" text-anchor="middle">10<tspan font-size="9.7" dy="-9.7">1</tspan></text>
<text x="80.5" y="75.9" font-size="15.5"><tspan font-style="italic">U</tspan><tspan dx="1">/</tspan><tspan font-style="italic" dx="0.8">J</tspan><tspan dx="0.5"> = 20</tspan></text>
<text transform="translate(14.8,161) rotate(-90)" font-size="20" font-style="italic">N<tspan font-style="normal" dx="1">(</tspan><tspan dx="0.6">t</tspan><tspan font-style="normal" dx="0.6">)</tspan><tspan dx="0.2">/</tspan>N<tspan font-size="14" dy="3.5" dx="0.2">s</tspan></text>
<text x="180.3" y="302.5" font-size="21"><tspan font-style="italic">t</tspan></text>
<text x="196.8" y="301.7" font-size="21.5">[</text>
<text x="205.9" y="302.2" font-size="21.8">Γ</text>
<text x="215.6" y="307" font-size="16.2">eff</text>
<path d="M224.8,289 H231.6" stroke="#000" stroke-width="0.9"/>
<text x="231.4" y="293.6" font-size="12">1</text>
<text x="241.4" y="301.7" font-size="21.5">]</text>
<path d="M275.2,34.5 H298.6" stroke="#bc8f8f" stroke-width="1"/>
<rect x="273.8" y="33.1" width="2.7" height="2.7" fill="#bc8f8f"/><rect x="297.2" y="33.1" width="2.7" height="2.7" fill="#bc8f8f"/>
<path d="M275.2,50.0 H298.6" stroke="#008000" stroke-width="1"/>
<path d="M275.2,48.0 l2,2 l-2,2 l-2,-2z" fill="#008000"/>
<path d="M298.6,48.0 l2,2 l-2,2 l-2,-2z" fill="#008000"/>
<path d="M275.2,64.8 H298.6" stroke="#0000ff" stroke-width="1"/>
<path d="M275.2,62.6 l2.2,3.8 h-4.4z" fill="#0000ff"/>
<path d="M298.6,62.6 l2.2,3.8 h-4.4z" fill="#0000ff"/>
<path d="M274.7,80.5 H298" stroke="#000" stroke-width="1.1" stroke-dasharray="4.2,2.6,0.9,1.7,0.9,2.2" stroke-dashoffset="9.4"/>
<path d="M275.1,96.9 H296.9" stroke="#ff0000" stroke-width="1.9" stroke-dasharray="8.8,4.1"/>
<text y="38.6" font-size="12.8"><tspan x="304.3" font-style="italic">N</tspan><tspan font-style="italic" font-size="9.3" dy="2.6" dx="-0.4">s</tspan><tspan x="315.8" dy="-2.6">=</tspan><tspan x="326.4" font-size="12.4">10</tspan></text>
<text y="54.1" font-size="12.8"><tspan x="304.3" font-style="italic">N</tspan><tspan font-style="italic" font-size="9.3" dy="2.6" dx="-0.4">s</tspan><tspan x="315.8" dy="-2.6">=</tspan><tspan x="326.4" font-size="12.4">12</tspan></text>
<text y="68.9" font-size="12.8"><tspan x="304.3" font-style="italic">N</tspan><tspan font-style="italic" font-size="9.3" dy="2.6" dx="-0.4">s</tspan><tspan x="315.8" dy="-2.6">=</tspan><tspan x="326.4" font-size="12.4">14</tspan></text>
<text x="304.8" y="84.8" font-size="13.2">uncorrelated</text>
<text x="304.8" y="99.8" font-size="13.2">rate eq.</text>
<text x="80.3" y="124.8" font-size="11" text-anchor="end">0.2</text>
<text x="80.3" y="163.2" font-size="11" text-anchor="end">0.1</text>
<text x="80.3" y="229.6" font-size="11" text-anchor="end">0.03</text>
<text x="83.2" y="242.0" font-size="10.3" text-anchor="middle">10<tspan font-size="7.3" dy="-5.8">0</tspan></text>
<text x="182.6" y="242.0" font-size="10.3" text-anchor="middle">10<tspan font-size="7.3" dy="-5.8">1</tspan></text>
<text transform="translate(63.2,185.2) rotate(-90)" font-size="13.5" font-style="italic">N<tspan font-style="normal" dx="0.3">(</tspan><tspan dx="0.2">t</tspan><tspan font-style="normal" dx="0.2">)</tspan>/N<tspan font-size="9.8" dy="2.4">s</tspan></text>
<text x="112" y="246.2" font-size="14" font-style="italic">t</text>
<text x="123" y="246" font-size="14">[</text>
<text x="129.6" y="246.2" font-size="14">Γ</text>
<text x="137.8" y="249.3" font-size="9.8">eff</text>
<path d="M144.1,236.7 H148.9" stroke="#000" stroke-width="0.7"/>
<text x="148.6" y="239.4" font-size="7.8">1</text>
<text x="152.6" y="246" font-size="14">]</text>
<path d="M158.8,129.7 H178.6" stroke="#000" stroke-width="1.1" stroke-dasharray="1.1,1.57"/>
<path d="M158.8,145.5 H178.6" stroke="#ff0000" stroke-width="1.1" stroke-dasharray="1.1,1.57"/>
<text x="181.5" y="132.8" font-size="13">~</text>
<text x="192.6" y="132.8" font-size="13"><tspan font-style="italic">t</tspan><tspan font-size="8.8" dy="-5.2">-1</tspan></text>
<text x="181.5" y="148.6" font-size="13" fill="#ff0000">~</text>
<text x="192.6" y="148.6" font-size="13" fill="#ff0000"><tspan font-style="italic">t</tspan><tspan font-size="8.8" dy="-5.2">-1/2</tspan></text>
</g>
</svg>
</body></html>
